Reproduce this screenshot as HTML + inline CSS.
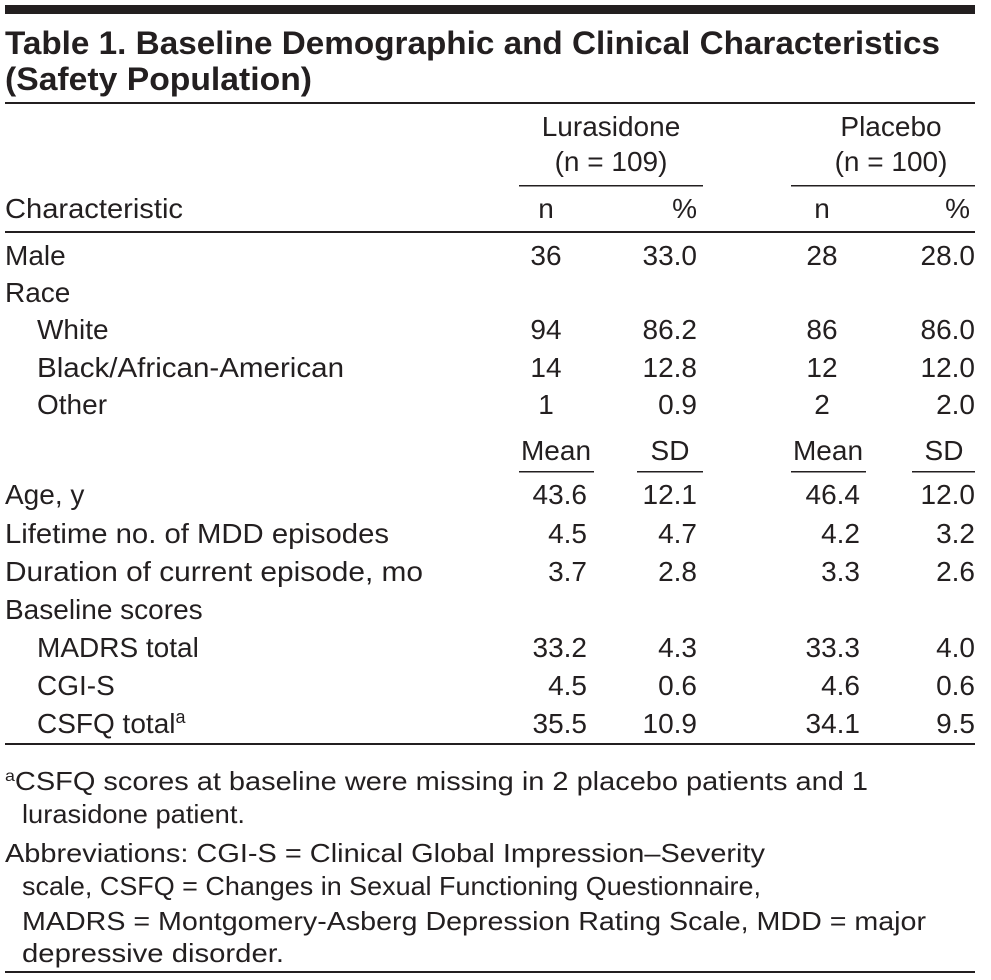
<!DOCTYPE html>
<html><head><meta charset="utf-8"><style>
html,body{margin:0;padding:0;background:#fff;}
svg{display:block}
text{font-family:"Liberation Sans",sans-serif;fill:#231f20;font-size:28px}
.b{font-weight:bold;font-size:32px}
.c{text-anchor:middle}.r{text-anchor:end}
.f{font-size:26px}
</style></head><body>
<svg width="991" height="980" viewBox="0 0 991 980">
<rect x="5" y="5" width="970" height="9" fill="#231f20"/>
<text class="b" x="5" y="54" textLength="935" lengthAdjust="spacingAndGlyphs">Table 1. Baseline Demographic and Clinical Characteristics</text>
<text class="b" x="5" y="90" textLength="307" lengthAdjust="spacingAndGlyphs">(Safety Population)</text>
<rect x="5" y="102" width="970" height="2" fill="#231f20"/>
<text class="c" x="611" y="136">Lurasidone</text>
<text class="c" x="611" y="171">(n = 109)</text>
<text class="c" x="891" y="136">Placebo</text>
<text class="c" x="891" y="171">(n = 100)</text>
<rect x="519" y="185" width="184" height="1.5" fill="#231f20"/>
<rect x="791" y="185" width="184" height="1.5" fill="#231f20"/>
<text x="5" y="218" textLength="178" lengthAdjust="spacingAndGlyphs">Characteristic</text>
<text class="c" x="546" y="218">n</text><text class="r" x="697" y="218">%</text>
<text class="c" x="822" y="218">n</text><text class="r" x="970" y="218">%</text>
<rect x="5" y="231" width="970" height="2" fill="#231f20"/>
<g>
<text x="5" y="265">Male</text><text class="c" x="546" y="265">36</text><text class="r" x="697" y="265">33.0</text><text class="c" x="822" y="265">28</text><text class="r" x="975" y="265">28.0</text>
<text x="5" y="302">Race</text>
<text x="37" y="339">White</text><text class="c" x="546" y="339">94</text><text class="r" x="697" y="339">86.2</text><text class="c" x="822" y="339">86</text><text class="r" x="975" y="339">86.0</text>
<text x="37" y="377" textLength="307" lengthAdjust="spacingAndGlyphs">Black/African-American</text><text class="c" x="546" y="377">14</text><text class="r" x="697" y="377">12.8</text><text class="c" x="822" y="377">12</text><text class="r" x="975" y="377">12.0</text>
<text x="37" y="414">Other</text><text class="c" x="546" y="414">1</text><text class="r" x="697" y="414">0.9</text><text class="c" x="822" y="414">2</text><text class="r" x="975" y="414">2.0</text>
<text class="c" x="556" y="460">Mean</text><text class="c" x="670" y="460">SD</text><text class="c" x="828" y="460">Mean</text><text class="c" x="944" y="460">SD</text>
<rect x="519" y="471" width="75" height="1.5" fill="#231f20"/><rect x="637" y="471" width="66" height="1.5" fill="#231f20"/>
<rect x="791" y="471" width="75" height="1.5" fill="#231f20"/><rect x="912" y="471" width="63" height="1.5" fill="#231f20"/>
<text x="5" y="504">Age, y</text><text class="r" x="587" y="504">43.6</text><text class="r" x="697" y="504">12.1</text><text class="r" x="860" y="504">46.4</text><text class="r" x="975" y="504">12.0</text>
<text x="5" y="543" textLength="384" lengthAdjust="spacingAndGlyphs">Lifetime no. of MDD episodes</text><text class="r" x="587" y="543">4.5</text><text class="r" x="697" y="543">4.7</text><text class="r" x="860" y="543">4.2</text><text class="r" x="975" y="543">3.2</text>
<text x="5" y="581" textLength="418" lengthAdjust="spacingAndGlyphs">Duration of current episode, mo</text><text class="r" x="587" y="581">3.7</text><text class="r" x="697" y="581">2.8</text><text class="r" x="860" y="581">3.3</text><text class="r" x="975" y="581">2.6</text>
<text x="5" y="619">Baseline scores</text>
<text x="37" y="657">MADRS total</text><text class="r" x="587" y="657">33.2</text><text class="r" x="697" y="657">4.3</text><text class="r" x="860" y="657">33.3</text><text class="r" x="975" y="657">4.0</text>
<text x="37" y="695">CGI-S</text><text class="r" x="587" y="695">4.5</text><text class="r" x="697" y="695">0.6</text><text class="r" x="860" y="695">4.6</text><text class="r" x="975" y="695">0.6</text>
<text x="37" y="733">CSFQ total<tspan dy="-10" font-size="18">a</tspan></text><text class="r" x="587" y="733">35.5</text><text class="r" x="697" y="733">10.9</text><text class="r" x="860" y="733">34.1</text><text class="r" x="975" y="733">9.5</text>
</g>
<rect x="5" y="743" width="970" height="2" fill="#231f20"/>
<text class="f" x="5" y="790" textLength="863" lengthAdjust="spacingAndGlyphs"><tspan dy="-9" font-size="16">a</tspan><tspan dy="9">CSFQ scores at baseline were missing in 2 placebo patients and 1</tspan></text>
<text class="f" x="22" y="823" textLength="223" lengthAdjust="spacingAndGlyphs">lurasidone patient.</text>
<text class="f" x="5" y="862" textLength="760" lengthAdjust="spacingAndGlyphs">Abbreviations: CGI-S = Clinical Global Impression–Severity</text>
<text class="f" x="22" y="895" textLength="739" lengthAdjust="spacingAndGlyphs">scale, CSFQ = Changes in Sexual Functioning Questionnaire,</text>
<text class="f" x="22" y="930" textLength="904" lengthAdjust="spacingAndGlyphs">MADRS = Montgomery-Asberg Depression Rating Scale, MDD = major</text>
<text class="f" x="22" y="962" textLength="262" lengthAdjust="spacingAndGlyphs">depressive disorder.</text>
<rect x="5" y="971" width="970" height="2" fill="#231f20"/>
</svg>
</body></html>
